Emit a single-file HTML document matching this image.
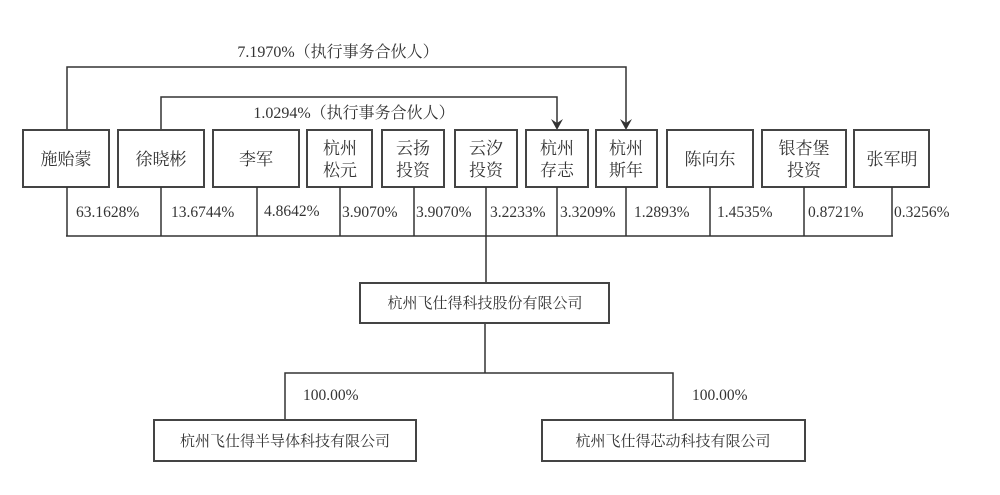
<!DOCTYPE html>
<html><head><meta charset="utf-8"><style>
html,body{margin:0;padding:0;background:#fff;}
svg{display:block;}
text{font-family:"Liberation Serif","Noto Serif CJK SC","Noto Sans CJK SC",serif;fill:#333;}
.b{font-size:17px;}
.p{font-size:15.5px;}
.t{font-size:16px;}
.s{font-size:15px;}
</style></head><body>
<svg width="1000" height="495" viewBox="0 0 1000 495" xmlns="http://www.w3.org/2000/svg">
<g fill="none" stroke="#333" stroke-width="1.5">
<polyline points="67,130 67,67 626,67 626,126"/>
<polyline points="161,130 161,97 557,97 557,126"/>
</g>
<g fill="#333">
<polygon points="620,119 626,130 632,119 626,123"/>
<polygon points="551,119 557,130 563,119 557,123"/>
</g>
<text class="t" x="338" y="57" text-anchor="middle">7.1970%（执行事务合伙人）</text>
<text class="t" x="354" y="118" text-anchor="middle">1.0294%（执行事务合伙人）</text>
<g fill="#fff" stroke="#444" stroke-width="2">
<rect x="23" y="130" width="86" height="57"/>
<rect x="118" y="130" width="86" height="57"/>
<rect x="213" y="130" width="86" height="57"/>
<rect x="307" y="130" width="65" height="57"/>
<rect x="382" y="130" width="62" height="57"/>
<rect x="455" y="130" width="62" height="57"/>
<rect x="526" y="130" width="62" height="57"/>
<rect x="596" y="130" width="61" height="57"/>
<rect x="667" y="130" width="86" height="57"/>
<rect x="762" y="130" width="84" height="57"/>
<rect x="854" y="130" width="75" height="57"/>
</g>
<g class="b" text-anchor="middle">
<text x="66" y="165">施贻蒙</text>
<text x="161" y="165">徐晓彬</text>
<text x="256" y="165">李军</text>
<text x="340" y="154">杭州</text><text x="340" y="176">松元</text>
<text x="413" y="154">云扬</text><text x="413" y="176">投资</text>
<text x="486" y="154">云汐</text><text x="486" y="176">投资</text>
<text x="557" y="154">杭州</text><text x="557" y="176">存志</text>
<text x="626" y="154">杭州</text><text x="626" y="176">斯年</text>
<text x="710" y="165">陈向东</text>
<text x="804" y="154">银杏堡</text><text x="804" y="176">投资</text>
<text x="892" y="165">张军明</text>
</g>
<g fill="none" stroke="#333" stroke-width="1.5">
<line x1="67" y1="187" x2="67" y2="236"/>
<line x1="161" y1="187" x2="161" y2="236"/>
<line x1="257" y1="187" x2="257" y2="236"/>
<line x1="340" y1="187" x2="340" y2="236"/>
<line x1="414" y1="187" x2="414" y2="236"/>
<line x1="486" y1="187" x2="486" y2="283"/>
<line x1="557" y1="187" x2="557" y2="236"/>
<line x1="626" y1="187" x2="626" y2="236"/>
<line x1="710" y1="187" x2="710" y2="236"/>
<line x1="804" y1="187" x2="804" y2="236"/>
<line x1="892" y1="187" x2="892" y2="236"/>
<line x1="66" y1="236" x2="893" y2="236"/>
<line x1="485" y1="323" x2="485" y2="373"/>
<polyline points="285,420 285,373 673,373 673,420"/>
</g>
<g class="p">
<text x="76" y="217">63.1628%</text>
<text x="171" y="217">13.6744%</text>
<text x="264" y="216">4.8642%</text>
<text x="342" y="217">3.9070%</text>
<text x="416" y="217">3.9070%</text>
<text x="490" y="217">3.2233%</text>
<text x="560" y="217">3.3209%</text>
<text x="634" y="217">1.2893%</text>
<text x="717" y="217">1.4535%</text>
<text x="808" y="217">0.8721%</text>
<text x="894" y="217">0.3256%</text>
<text x="303" y="400">100.00%</text>
<text x="692" y="400">100.00%</text>
</g>
<g fill="#fff" stroke="#444" stroke-width="2">
<rect x="360" y="283" width="249" height="40"/>
<rect x="154" y="420" width="262" height="41"/>
<rect x="542" y="420" width="263" height="41"/>
</g>
<g class="s" text-anchor="middle">
<text x="485" y="308">杭州飞仕得科技股份有限公司</text>
<text x="285" y="446">杭州飞仕得半导体科技有限公司</text>
<text x="673" y="446">杭州飞仕得芯动科技有限公司</text>
</g>
</svg>
</body></html>
